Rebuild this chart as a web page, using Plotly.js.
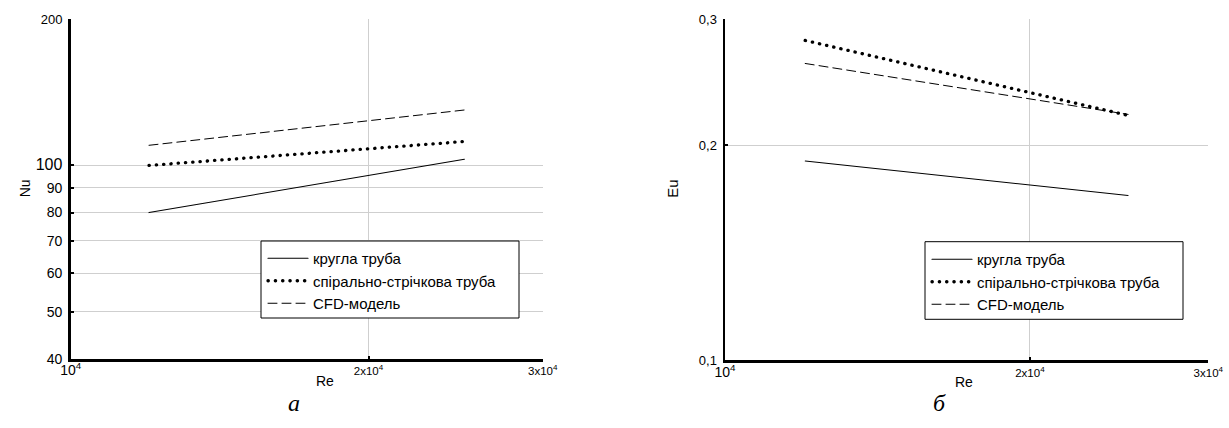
<!DOCTYPE html>
<html>
<head>
<meta charset="utf-8">
<script src="https://cdn.plot.ly/plotly-3.0.1.min.js"></script>
<style>
html,body{margin:0;padding:0;background:#fff;}
#chart{width:1229px;height:428px;}
#chart path.js-line{stroke-linecap:round;}
</style>
</head>
<body>
<div id="chart"></div>
<script>
// Data
const re = [12000, 25000];
const nuRound = [80, 103];
const nuSpiral = [100, 112];
const nuCFD = [110, 130];
const euRound = [0.19, 0.17];
const euSpiral = [0.28, 0.22];
const euCFD = [0.26, 0.2207];

const seriesNames = ['кругла труба', 'спірально-стрічкова труба', 'CFD-модель'];
const xTickVals = [10000, 20000, 30000];
const xTickText = ['<span style="font-size:14px">10<sup>4</sup></span>', '2x10<sup>4</sup>', '3x10<sup>4</sup>'];
const nuTickVals = [40, 50, 60, 70, 80, 90, 100, 200];
const nuTickText = ['40', '50', '60', '70', '80', '90', '<span style="font-size:16px">100</span>', '<span style="font-size:13px">200</span>'];
const euTickVals = [0.1, 0.2, 0.3];
const euTickText = ['0,1', '0,2', '0,3'];

const FONT = 'Arial, "Liberation Sans", sans-serif';
const SERIF = '"Liberation Serif", "Times New Roman", "DejaVu Serif", serif';
const styles = [
  {color: '#000', width: 1.1, dash: 'solid'},
  {color: '#000', width: 3.3, dash: '0.3px,7px'},
  {color: '#000', width: 1, dash: '9px,5px'}
];

function mk(x, y, i, xa, ya, lg) {
  return {x: x, y: y, name: seriesNames[i], mode: 'lines', line: styles[i],
          xaxis: xa, yaxis: ya, legend: lg, hoverinfo: 'skip'};
}

const data = [
  mk(re, nuRound, 0, 'x', 'y', 'legend'),
  mk(re, nuSpiral, 1, 'x', 'y', 'legend'),
  mk(re, nuCFD, 2, 'x', 'y', 'legend'),
  mk(re, euRound, 0, 'x2', 'y2', 'legend2'),
  mk(re, euSpiral, 1, 'x2', 'y2', 'legend2'),
  mk(re, euCFD, 2, 'x2', 'y2', 'legend2')
];

const px = v => v / 1229;
const py = v => 1 - v / 428;

const xBase = {
  type: 'log', range: [4, Math.log10(30000)], tickvals: xTickVals, ticktext: xTickText,
  showgrid: true, gridcolor: '#cfcfcf', gridwidth: 1, showline: true, linecolor: '#000', linewidth: 2.5,
  ticks: 'inside', ticklen: 3, tickwidth: 2, tickcolor: '#000', zeroline: false,
  tickfont: {family: FONT, size: 11.5, color: '#000'}, ticklabelstandoff: 0, fixedrange: true
};
const yBase = {
  type: 'log', showgrid: true, gridcolor: '#cfcfcf', gridwidth: 1, showline: true, linecolor: '#000', linewidth: 2.5,
  ticks: 'inside', ticklen: 3, tickwidth: 2, tickcolor: '#000', zeroline: false,
  tickfont: {family: FONT, size: 14, color: '#000'}, ticklabelstandoff: 3, fixedrange: true
};

const legendBase = {xanchor: 'left', yanchor: 'top', bgcolor: 'rgba(0,0,0,0)',
  borderwidth: 0, font: {family: FONT, size: 15, color: '#000'}, itemwidth: 40, tracegroupgap: 0};

const layout = {
  width: 1229, height: 428,
  margin: {l: 0, r: 0, t: 0, b: 0},
  paper_bgcolor: '#fff', plot_bgcolor: '#fff',
  font: {family: FONT, color: '#000'},
  xaxis: Object.assign({}, xBase, {domain: [px(70.7), px(542.7)], anchor: 'y'}),
  yaxis: Object.assign({}, yBase, {domain: [py(359), py(19)], anchor: 'x',
    range: [Math.log10(40), Math.log10(200)], tickvals: nuTickVals, ticktext: nuTickText}),
  xaxis2: Object.assign({}, xBase, {domain: [px(725), px(1208.3)], anchor: 'y2'}),
  yaxis2: Object.assign({}, yBase, {domain: [py(360.4), py(19)], anchor: 'x2',
    range: [-1, Math.log10(0.3)], tickvals: euTickVals, ticktext: euTickText,
    tickfont: {family: FONT, size: 13, color: '#000'}}),
  legend: Object.assign({}, legendBase, {x: px(263), y: py(242)}),
  legend2: Object.assign({}, legendBase, {x: px(927), y: py(243)}),
  showlegend: true,
  shapes: [
    {type: 'rect', xref: 'paper', yref: 'paper', x0: px(261), x1: px(519), y0: py(318), y1: py(241),
     line: {color: '#000', width: 1}, fillcolor: '#fff', layer: 'above'},
    {type: 'rect', xref: 'paper', yref: 'paper', x0: px(925), x1: px(1183), y0: py(319.3), y1: py(241.7),
     line: {color: '#000', width: 1}, fillcolor: '#fff', layer: 'above'}
  ],
  annotations: [
    {text: 'Nu', x: px(15), y: py(188.3), xref: 'paper', yref: 'paper', showarrow: false, textangle: -90, font: {family: FONT, size: 14}},
    {text: 'Re', x: px(314), y: py(391), xref: 'paper', yref: 'paper', showarrow: false, font: {family: FONT, size: 14}},
    {text: '<i>a</i>', x: px(286), y: py(418), xref: 'paper', yref: 'paper', showarrow: false, font: {family: SERIF, size: 24}},
    {text: 'Eu', x: px(671.7), y: py(189), xref: 'paper', yref: 'paper', showarrow: false, textangle: -90, font: {family: FONT, size: 15}},
    {text: 'Re', x: px(975), y: py(392), xref: 'paper', yref: 'paper', showarrow: false, font: {family: FONT, size: 14}},
    {text: '<i>б</i>', x: px(948), y: py(418), xref: 'paper', yref: 'paper', showarrow: false, font: {family: SERIF, size: 24}}
  ]
};

Plotly.newPlot('chart', data, layout, {displayModeBar: false, staticPlot: true});
</script>
</body>
</html>
